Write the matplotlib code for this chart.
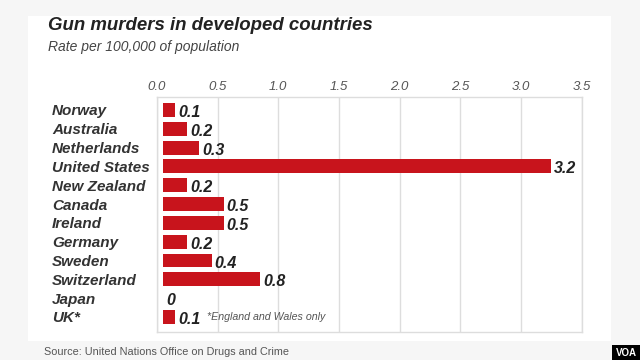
import matplotlib
matplotlib.use("Agg")
import matplotlib.pyplot as plt
from matplotlib.patches import Rectangle

plt.rcParams["font.family"] = ["Liberation Sans", "DejaVu Sans"]

countries = ["Norway", "Australia", "Netherlands", "United States", "New Zealand",
             "Canada", "Ireland", "Germany", "Sweden", "Switzerland", "Japan", "UK*"]
rates = [0.1, 0.2, 0.3, 3.2, 0.2, 0.5, 0.5, 0.2, 0.4, 0.8, 0.0, 0.1]
xticks = [0.0, 0.5, 1.0, 1.5, 2.0, 2.5, 3.0, 3.5]

W, H = 640, 360
fig = plt.figure(figsize=(W / 100, H / 100), dpi=100, facecolor="#f6f6f6")

# white card behind the chart
fig.patches.append(Rectangle((28 / W, 1 - 341 / H), (611 - 28) / W, (341 - 16) / H,
                             transform=fig.transFigure, facecolor="white",
                             edgecolor="none", zorder=-1))

ax = fig.add_axes([157 / W, 1 - 332 / H, (581.7 - 157) / W, (332 - 97) / H])
ax.set_facecolor("white")

red = "#c8141c"
bars = ax.barh(range(len(countries)), rates, height=0.74, left=0.05,
               color=red, linewidth=0, zorder=3)
value_labels = ax.bar_label(bars, labels=[f"{v:g}" for v in rates], padding=2,
                            fontsize=11.5, fontweight="bold", fontstyle="italic",
                            color="#222222")
# numbers sit a little below the bar middle in the original
for t in value_labels:
    t.xyann = (t.xyann[0], -1.8)

ax.set_xlim(0, 3.5)
ax.set_ylim(len(countries) - 0.2, -0.69)
ax.set_xticks(xticks)
ax.set_xticklabels([f"{t:.1f}" for t in xticks], fontstyle="italic",
                   fontsize=9.5, color="#555555")
ax.xaxis.tick_top()
ax.tick_params(axis="x", length=0, pad=3)

ax.set_yticks(range(len(countries)))
ax.set_yticklabels(countries, fontsize=11, fontweight="bold", fontstyle="italic",
                   color="#333333", ha="left")
ax.tick_params(axis="y", length=0, pad=(157 - 52) * 0.72)

ax.grid(axis="x", color="#dddddd", linewidth=1, zorder=0)
for s in ax.spines.values():
    s.set_color("#dddddd")
    s.set_linewidth(1)

ax.text(0.415, 11, "*England and Wales only", fontsize=7.7, fontstyle="italic",
        color="#555555", va="center", ha="left")

fig.text(48 / W, 1 - 30 / H, "Gun murders in developed countries", fontsize=13.4,
         fontweight="bold", fontstyle="italic", color="#222222", va="baseline")
fig.text(48 / W, 1 - 51 / H, "Rate per 100,000 of population", fontsize=10,
         fontstyle="italic", color="#444444", va="baseline")
fig.text(44 / W, 1 - 352 / H, "Source: United Nations Office on Drugs and Crime",
         fontsize=7.8, color="#555555", va="center")

# VOA badge
fig.patches.append(Rectangle((612 / W, 0), 28 / W, 15 / H, transform=fig.transFigure,
                             facecolor="black", edgecolor="none", zorder=5))
fig.text(626 / W, 7.5 / H, "VOA", fontsize=7, fontweight="bold", color="white",
         ha="center", va="center", zorder=6)

fig.savefig("out.png", dpi=100, facecolor=fig.get_facecolor())
